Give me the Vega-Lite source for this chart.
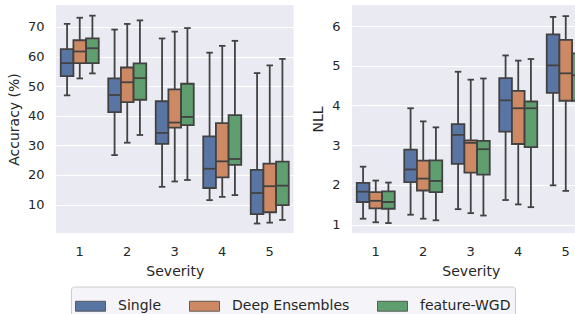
{
  "$schema": "https://vega.github.io/schema/vega-lite/v6.json",
  "padding": {"left": 7, "top": 5, "right": 0, "bottom": 0},
  "background": "white",
  "spacing": 17,
  "datasets": {
    "acc": [
      {"severity": 1, "model": "Single", "low": 46.9, "q1": 53.4, "median": 57.8, "q3": 62.5, "high": 71.0},
      {"severity": 1, "model": "Deep Ensembles", "low": 52.6, "q1": 57.8, "median": 61.7, "q3": 65.5, "high": 73.1},
      {"severity": 1, "model": "feature-WGD", "low": 54.3, "q1": 57.8, "median": 62.8, "q3": 66.1, "high": 73.8},
      {"severity": 2, "model": "Single", "low": 26.7, "q1": 41.2, "median": 47.0, "q3": 52.6, "high": 69.1},
      {"severity": 2, "model": "Deep Ensembles", "low": 30.9, "q1": 44.6, "median": 51.3, "q3": 56.3, "high": 71.0},
      {"severity": 2, "model": "feature-WGD", "low": 33.5, "q1": 45.4, "median": 52.7, "q3": 57.7, "high": 72.2},
      {"severity": 3, "model": "Single", "low": 16.0, "q1": 30.5, "median": 34.2, "q3": 44.9, "high": 66.1},
      {"severity": 3, "model": "Deep Ensembles", "low": 17.8, "q1": 36.0, "median": 37.7, "q3": 48.9, "high": 68.4},
      {"severity": 3, "model": "feature-WGD", "low": 18.3, "q1": 36.8, "median": 39.6, "q3": 50.8, "high": 69.6},
      {"severity": 4, "model": "Single", "low": 11.5, "q1": 15.6, "median": 22.1, "q3": 33.0, "high": 61.3},
      {"severity": 4, "model": "Deep Ensembles", "low": 12.6, "q1": 19.2, "median": 24.6, "q3": 37.5, "high": 63.6},
      {"severity": 4, "model": "feature-WGD", "low": 13.2, "q1": 23.4, "median": 25.4, "q3": 40.2, "high": 65.3},
      {"severity": 5, "model": "Single", "low": 3.6, "q1": 6.8, "median": 13.9, "q3": 21.7, "high": 54.4},
      {"severity": 5, "model": "Deep Ensembles", "low": 3.9, "q1": 7.4, "median": 16.2, "q3": 23.8, "high": 57.0},
      {"severity": 5, "model": "feature-WGD", "low": 4.8, "q1": 9.8, "median": 16.4, "q3": 24.5, "high": 59.2}
    ],
    "nll": [
      {"severity": 1, "model": "Single", "low": 1.15, "q1": 1.57, "median": 1.83, "q3": 2.05, "high": 2.46},
      {"severity": 1, "model": "Deep Ensembles", "low": 1.06, "q1": 1.41, "median": 1.60, "q3": 1.82, "high": 2.11},
      {"severity": 1, "model": "feature-WGD", "low": 1.04, "q1": 1.40, "median": 1.57, "q3": 1.84, "high": 2.06},
      {"severity": 2, "model": "Single", "low": 1.25, "q1": 2.07, "median": 2.39, "q3": 2.89, "high": 3.93},
      {"severity": 2, "model": "Deep Ensembles", "low": 1.15, "q1": 1.86, "median": 2.16, "q3": 2.61, "high": 3.60},
      {"severity": 2, "model": "feature-WGD", "low": 1.11, "q1": 1.82, "median": 2.10, "q3": 2.62, "high": 3.45},
      {"severity": 3, "model": "Single", "low": 1.39, "q1": 2.53, "median": 3.26, "q3": 3.53, "high": 4.85},
      {"severity": 3, "model": "Deep Ensembles", "low": 1.29, "q1": 2.31, "median": 3.06, "q3": 3.12, "high": 4.65},
      {"severity": 3, "model": "feature-WGD", "low": 1.23, "q1": 2.26, "median": 2.90, "q3": 3.11, "high": 4.68},
      {"severity": 4, "model": "Single", "low": 1.62, "q1": 3.34, "median": 4.13, "q3": 4.69, "high": 5.26},
      {"severity": 4, "model": "Deep Ensembles", "low": 1.51, "q1": 3.03, "median": 3.93, "q3": 4.37, "high": 5.13},
      {"severity": 4, "model": "feature-WGD", "low": 1.44, "q1": 2.95, "median": 3.93, "q3": 4.10, "high": 5.17},
      {"severity": 5, "model": "Single", "low": 1.99, "q1": 4.32, "median": 5.01, "q3": 5.79, "high": 6.23},
      {"severity": 5, "model": "Deep Ensembles", "low": 1.85, "q1": 4.12, "median": 4.81, "q3": 5.65, "high": 6.25},
      {"severity": 5, "model": "feature-WGD", "low": 1.75, "q1": 4.12, "median": 4.76, "q3": 5.31, "high": 6.13}
    ]
  },
  "hconcat": [
    {
      "data": {"name": "acc"},
      "width": 237.5,
      "height": 228,
      "encoding": {
        "x": {"field": "severity", "type": "ordinal", "title": "Severity",
              "scale": {"domain": [1, 2, 3, 4, 5], "paddingInner": 0.2, "paddingOuter": 0.1},
              "axis": {"labelAngle": 0, "grid": false}},
        "xOffset": {"field": "model", "type": "nominal",
                    "scale": {"domain": ["Single", "Deep Ensembles", "feature-WGD"], "paddingInner": 0, "paddingOuter": 0}},
        "y": {"field": "low", "type": "quantitative", "title": "Accuracy (%)",
              "scale": {"domain": [0.4, 77.4], "nice": false, "zero": false},
              "axis": {"values": [10, 20, 30, 40, 50, 60, 70], "labelOverlap": false, "labelSeparation": 0}}
      },
      "layer": [
        {"mark": {"type": "rule", "color": "#424242", "strokeWidth": 1.8},
         "encoding": {"y2": {"field": "q1"}}},
        {"mark": {"type": "rule", "color": "#424242", "strokeWidth": 1.8},
         "encoding": {"y": {"field": "q3", "type": "quantitative"}, "y2": {"field": "high"}}},
        {"mark": {"type": "tick", "color": "#424242", "size": 6.5, "thickness": 1.8, "opacity": 1},
         "encoding": {"y": {"field": "low", "type": "quantitative"}}},
        {"mark": {"type": "tick", "color": "#424242", "size": 6.5, "thickness": 1.8, "opacity": 1},
         "encoding": {"y": {"field": "high", "type": "quantitative"}}},
        {"mark": {"type": "bar", "stroke": "#424242", "strokeWidth": 1.8, "opacity": 1},
         "encoding": {"y": {"field": "q1", "type": "quantitative"}, "y2": {"field": "q3"},
                      "color": {"field": "model", "type": "nominal",
                                "scale": {"domain": ["Single", "Deep Ensembles", "feature-WGD"],
                                          "range": ["#5975A4", "#CC8963", "#5F9E6E"]},
                                "legend": {"title": null, "orient": "none", "legendX": 15, "legendY": 281.5,
                                           "direction": "horizontal"}}}},
        {"mark": {"type": "tick", "color": "#424242", "size": 12.5, "thickness": 1.8, "opacity": 1},
         "encoding": {"y": {"field": "median", "type": "quantitative"}}}
      ]
    },
    {
      "data": {"name": "nll"},
      "width": 228,
      "height": 228,
      "encoding": {
        "x": {"field": "severity", "type": "ordinal", "title": "Severity",
              "scale": {"domain": [1, 2, 3, 4, 5], "paddingInner": 0.2, "paddingOuter": 0.1, "range": [0, 237.5]},
              "axis": {"labelAngle": 0, "grid": false}},
        "xOffset": {"field": "model", "type": "nominal",
                    "scale": {"domain": ["Single", "Deep Ensembles", "feature-WGD"], "paddingInner": 0, "paddingOuter": 0}},
        "y": {"field": "low", "type": "quantitative", "title": "NLL",
              "scale": {"domain": [0.79, 6.53], "nice": false, "zero": false},
              "axis": {"values": [1, 2, 3, 4, 5, 6], "labelOverlap": false, "labelSeparation": 0}}
      },
      "layer": [
        {"mark": {"type": "rule", "color": "#424242", "strokeWidth": 1.8, "clip": true},
         "encoding": {"y2": {"field": "q1"}}},
        {"mark": {"type": "rule", "color": "#424242", "strokeWidth": 1.8, "clip": true},
         "encoding": {"y": {"field": "q3", "type": "quantitative"}, "y2": {"field": "high"}}},
        {"mark": {"type": "tick", "color": "#424242", "size": 6.5, "thickness": 1.8, "opacity": 1, "clip": true},
         "encoding": {"y": {"field": "low", "type": "quantitative"}}},
        {"mark": {"type": "tick", "color": "#424242", "size": 6.5, "thickness": 1.8, "opacity": 1, "clip": true},
         "encoding": {"y": {"field": "high", "type": "quantitative"}}},
        {"mark": {"type": "bar", "stroke": "#424242", "strokeWidth": 1.8, "opacity": 1, "clip": true},
         "encoding": {"y": {"field": "q1", "type": "quantitative"}, "y2": {"field": "q3"},
                      "color": {"field": "model", "type": "nominal",
                                "scale": {"domain": ["Single", "Deep Ensembles", "feature-WGD"],
                                          "range": ["#5975A4", "#CC8963", "#5F9E6E"]},
                                "legend": {"title": null, "orient": "none", "legendX": 15, "legendY": 281.5,
                                           "direction": "horizontal"}}}},
        {"mark": {"type": "tick", "color": "#424242", "size": 12.5, "thickness": 1.8, "opacity": 1, "clip": true},
         "encoding": {"y": {"field": "median", "type": "quantitative"}}}
      ]
    }
  ],
  "config": {
    "view": {"fill": "#EAEAF2", "stroke": null},
    "font": "DejaVu Sans",
    "axis": {"domain": false, "ticks": false, "gridColor": "white", "gridWidth": 1.2, "gridOpacity": 1,
             "labelFont": "DejaVu Sans", "labelFontSize": 13, "labelColor": "#262626", "labelPadding": 12,
             "titleFont": "DejaVu Sans", "titleFontSize": 14, "titleFontWeight": "normal", "titleColor": "#262626",
             "titlePadding": 6},
    "axisY": {"labelOverlap": false},
    "legend": {"labelFont": "DejaVu Sans", "labelFontSize": 14, "labelColor": "#262626",
               "symbolType": "M-1,-0.333H1V0.333H-1Z", "symbolSize": 900,
               "symbolStrokeColor": "#424242", "symbolStrokeWidth": 0.8, "symbolOpacity": 1,
               "labelOffset": 12, "columnPadding": 25, "padding": 4,
               "strokeColor": "#cccccc", "fillColor": "#F5F5F9", "cornerRadius": 3}
  }
}
